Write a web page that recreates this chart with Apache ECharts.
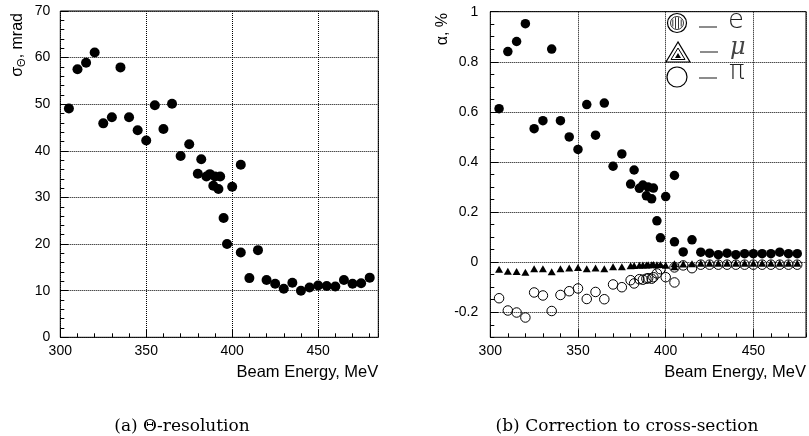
<!DOCTYPE html>
<html>
<head>
    <meta charset="utf-8"/>
    <style type="text/css">
        body, html {
            width: 100%;
            height: 100%;
            margin: 0;
            background: #fff;
        }
        #chart {
            width: 809px;
            height: 436px;
        }
    </style>
    <script src="https://cdn.jsdelivr.net/npm/echarts@6/dist/echarts.min.js"></script>
    <title>Theta resolution / correction to cross-section</title>
</head>
<body>
<div id="chart"></div>
<script type="text/javascript">
    // beam energies, MeV (405 appears twice)
    var energy = [305, 310, 315, 320, 325, 330, 335, 340, 345, 350, 355, 360, 365, 370, 375,
        380, 382, 385, 387, 389, 390, 392, 393, 395, 397, 400, 405, 405,
        410, 415, 420, 425, 430, 435, 440, 445, 450, 455, 460, 465, 470, 475, 480];

    // (a) sigma_theta, mrad
    var sigmaTheta = [49.1, 57.5, 58.9, 61.1, 45.9, 47.2, 57.9, 47.2, 44.4, 42.2, 49.8, 44.7, 50.1, 38.9, 41.4,
        35.1, 38.2, 34.5, 35.0, 32.5, 34.5, 31.8, 34.5, 25.6, 20.0, 32.3, 37.0, 18.2,
        12.7, 18.7, 12.3, 11.5, 10.4, 11.7, 10.0, 10.7, 11.1, 11.0, 10.9, 12.3, 11.5, 11.6, 12.8];

    // (b) correction alpha, % (last energy point is outside the frame)
    var alphaE = [0.613, 0.841, 0.881, 0.952, 0.533, 0.565, 0.851, 0.565, 0.50, 0.45, 0.629, 0.507, 0.635, 0.383, 0.432,
        0.312, 0.368, 0.295, 0.308, 0.265, 0.30, 0.253, 0.296, 0.165, 0.097, 0.262, 0.346, 0.081,
        0.041, 0.089, 0.040, 0.036, 0.030, 0.036, 0.030, 0.034, 0.034, 0.034, 0.034, 0.040, 0.034, 0.034];
    var alphaMu = [-0.028, -0.036, -0.037, -0.040, -0.026, -0.026, -0.038, -0.026, -0.023, -0.021, -0.026, -0.023, -0.026, -0.018, -0.018,
        -0.014, -0.013, -0.012, -0.011, -0.011, -0.010, -0.010, -0.009, -0.010, -0.009, -0.012, -0.018, -0.006,
        -0.007, -0.006, -0.004, -0.004, -0.004, -0.004, -0.004, -0.004, -0.004, -0.004, -0.004, -0.004, -0.004, -0.004];
    var alphaPi = [-0.144, -0.193, -0.201, -0.221, -0.121, -0.133, -0.195, -0.131, -0.116, -0.105, -0.147, -0.119, -0.148, -0.089, -0.100,
        -0.072, -0.085, -0.068, -0.070, -0.066, -0.064, -0.066, -0.060, -0.045, -0.028, -0.060, -0.081, -0.021,
        -0.013, -0.024, -0.010, -0.010, -0.010, -0.010, -0.010, -0.010, -0.010, -0.010, -0.010, -0.010, -0.010, -0.010];

    var alphaTicks = [-0.2, 0, 0.2, 0.4, 0.6, 0.8, 1];

    function pairs(ys) {
        var out = [];
        for (var i = 0; i < ys.length; i++) {
            out.push([energy[i], ys[i]]);
        }
        return out;
    }

    var labelFont = 'Liberation Sans';
    var black = '#000';

    function majorX(grid, max) {
        return {
            type: 'value', gridIndex: grid, min: 300, max: max, interval: 50, position: 'bottom',
            axisLine: {show: false, onZero: false},
            axisTick: {inside: true, length: 8, lineStyle: {color: black}},
            axisLabel: {color: black, fontFamily: labelFont, fontSize: 14, margin: 7, showMaxLabel: false},
            splitLine: {show: true, lineStyle: {type: 'dotted', color: black, width: 1}},
            name: 'Beam Energy, MeV',
            nameLocation: 'end',
            nameGap: 0,
            nameTextStyle: {
                color: black, fontFamily: labelFont, fontSize: 16.5,
                align: 'right', verticalAlign: 'top', padding: [27, 0, 0, 0]
            }
        };
    }

    function minorAxis(grid, min, max, step, pos) {
        return {
            type: 'value', gridIndex: grid, min: min, max: max, interval: step, position: pos,
            axisLine: {show: false, onZero: false},
            axisTick: {inside: true, length: 4, lineStyle: {color: black}},
            axisLabel: {show: false},
            splitLine: {show: false}
        };
    }

    var chart = echarts.init(document.getElementById('chart'));

    var option = {
        animation: false,
        backgroundColor: '#fff',
        grid: [
            {left: 60.3, top: 11, width: 318, height: 326.3, show: true, borderColor: black, borderWidth: 1},
            {left: 490.3, top: 11.7, width: 317.7, height: 325.6, show: true, borderColor: black, borderWidth: 1}
        ],
        xAxis: [
            majorX(0, 485),
            minorAxis(0, 300, 485, 10, 'bottom'),
            majorX(1, 480),
            minorAxis(1, 300, 480, 10, 'bottom')
        ],
        yAxis: [
            {
                type: 'value', gridIndex: 0, min: 0, max: 70, interval: 10, position: 'left',
                axisLine: {show: false, onZero: false},
                axisTick: {inside: true, length: 8, lineStyle: {color: black}},
                axisLabel: {color: black, fontFamily: labelFont, fontSize: 14, margin: 10},
                splitLine: {show: true, lineStyle: {type: 'dotted', color: black, width: 1}}
            },
            minorAxis(0, 0, 70, 2, 'left'),
            {
                type: 'value', gridIndex: 1, min: -0.3, max: 1, interval: 0.05, position: 'left',
                axisLine: {show: false, onZero: false},
                axisTick: {inside: true, length: 8, lineStyle: {color: black}, customValues: alphaTicks},
                axisLabel: {color: black, fontFamily: labelFont, fontSize: 14, margin: 12, customValues: alphaTicks},
                splitLine: {show: true, lineStyle: {type: 'dotted', color: black, width: 1}}
            },
            minorAxis(1, -0.3, 1, 0.05, 'left')
        ],
        series: [
            {
                name: 'sigma', type: 'scatter', xAxisIndex: 0, yAxisIndex: 0,
                symbol: 'circle', symbolSize: 10, itemStyle: {color: black, opacity: 1},
                data: pairs(sigmaTheta)
            },
            {
                name: 'e', type: 'scatter', xAxisIndex: 2, yAxisIndex: 2,
                symbol: 'circle', symbolSize: 9.5, itemStyle: {color: black, opacity: 1},
                data: pairs(alphaE)
            },
            {
                name: 'mu', type: 'scatter', xAxisIndex: 2, yAxisIndex: 2,
                symbol: 'triangle', symbolSize: [8, 7], itemStyle: {color: black, opacity: 1},
                data: pairs(alphaMu)
            },
            {
                name: 'pi', type: 'scatter', xAxisIndex: 2, yAxisIndex: 2,
                symbol: 'circle', symbolSize: 9.5,
                itemStyle: {color: 'rgba(0,0,0,0)', borderColor: black, borderWidth: 1, opacity: 1},
                data: pairs(alphaPi)
            }
        ],
        graphic: [
            // y axis titles
            {
                type: 'text', x: 18, y: 13, rotation: Math.PI / 2,
                style: {
                    text: '{s|σ}{sub|Θ}{s|, mrad}', align: 'right', verticalAlign: 'middle',
                    rich: {
                        s: {fontFamily: labelFont, fontSize: 16, fill: black},
                        sub: {fontFamily: labelFont, fontSize: 11, fill: black, padding: [8, 0, 0, 0]}
                    }
                }
            },
            {
                type: 'text', x: 443, y: 13, rotation: Math.PI / 2,
                style: {
                    text: 'α, %', align: 'right', verticalAlign: 'middle',
                    fontFamily: labelFont, fontSize: 16, fill: black
                }
            },
            // legend of panel (b)
            {
                type: 'group',
                children: [
                    {type: 'circle', shape: {cx: 677, cy: 23, r: 9.5}, style: {fill: '#fff', stroke: black, lineWidth: 1.2}},
                    {type: 'circle', shape: {cx: 677, cy: 23, r: 6.5}, style: {fill: 'none', stroke: black, lineWidth: 0.8}},
                    {type: 'line', shape: {x1: 675.5, y1: 17.3, x2: 675.5, y2: 28.7}, style: {stroke: black, lineWidth: 0.8}},
                    {type: 'line', shape: {x1: 678.5, y1: 17.3, x2: 678.5, y2: 28.7}, style: {stroke: black, lineWidth: 0.8}},
                    {type: 'line', shape: {x1: 672.8, y1: 19.5, x2: 672.8, y2: 26.5}, style: {stroke: black, lineWidth: 0.8}},
                    {type: 'line', shape: {x1: 681.2, y1: 19.5, x2: 681.2, y2: 26.5}, style: {stroke: black, lineWidth: 0.8}},

                    {type: 'polygon', shape: {points: [[678, 42], [666, 62], [690, 62]]}, style: {fill: '#fff', stroke: black, lineWidth: 1.2}},
                    {type: 'polygon', shape: {points: [[678, 48], [671, 59.5], [685, 59.5]]}, style: {fill: 'none', stroke: black, lineWidth: 1}},
                    {type: 'polygon', shape: {points: [[678, 53], [675, 58], [681, 58]]}, style: {fill: black}},

                    {type: 'circle', shape: {cx: 677, cy: 77, r: 10}, style: {fill: 'none', stroke: black, lineWidth: 1.2}},

                    {type: 'line', shape: {x1: 699, y1: 27, x2: 717, y2: 27}, style: {stroke: '#666', lineWidth: 1.5}},
                    {type: 'line', shape: {x1: 700, y1: 52, x2: 718, y2: 52}, style: {stroke: '#666', lineWidth: 1.5}},
                    {type: 'line', shape: {x1: 699, y1: 78, x2: 717, y2: 78}, style: {stroke: '#666', lineWidth: 1.5}},

                    {type: 'text', x: 728, y: 34, style: {text: 'e', fontFamily: 'DejaVu Sans', fontWeight: 200, fontSize: 26, fill: '#222', verticalAlign: 'bottom'}},
                    {type: 'text', x: 730, y: 60, style: {text: 'μ', fontFamily: 'DejaVu Serif', fontStyle: 'italic', fontSize: 24, fill: '#444', verticalAlign: 'bottom'}},
                    {type: 'text', x: 729, y: 85, style: {text: 'π', fontFamily: 'DejaVu Sans', fontWeight: 200, fontSize: 26, fill: '#222', verticalAlign: 'bottom'}}
                ]
            },
            // sub-figure captions
            {
                type: 'text', x: 182, y: 427,
                style: {text: '(a) Θ-resolution', align: 'center', verticalAlign: 'middle', fontFamily: 'DejaVu Serif', fontSize: 17, fill: black}
            },
            {
                type: 'text', x: 627, y: 427,
                style: {text: '(b) Correction to cross-section', align: 'center', verticalAlign: 'middle', fontFamily: 'DejaVu Serif', fontSize: 17, fill: black}
            }
        ]
    };
    chart.setOption(option);
</script>
</body>
</html>
